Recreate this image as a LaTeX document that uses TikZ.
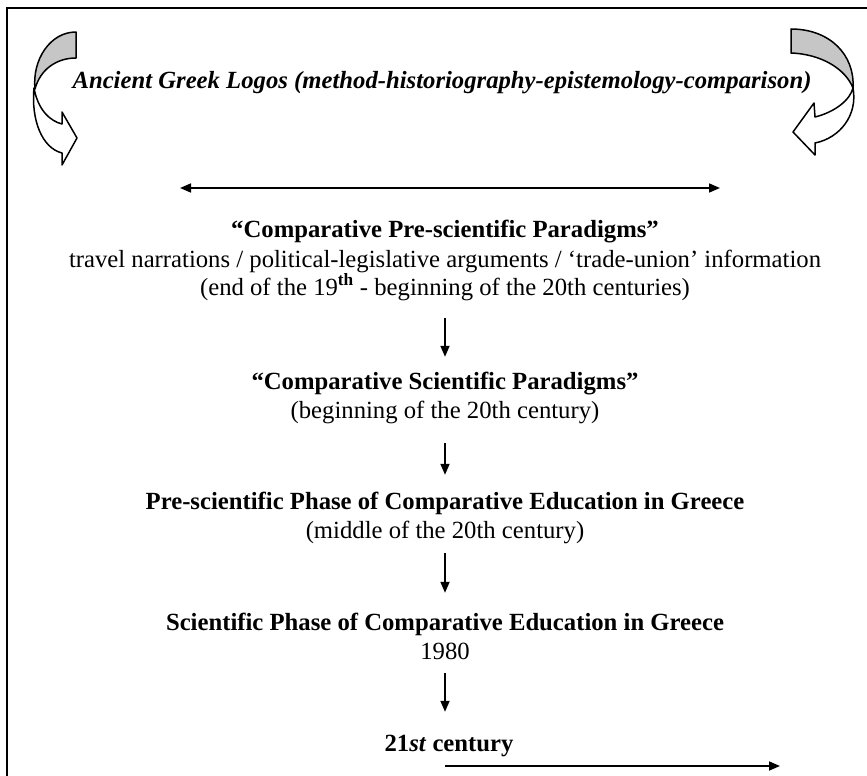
\documentclass[tikz,border=0pt]{standalone}
\usepackage{fontspec}
\setmainfont{Liberation Serif}
\usetikzlibrary{arrows.meta}
\begin{document}
\begin{tikzpicture}[x=1pt,y=-1pt,
  txt/.style={inner sep=0pt, text height=17pt, text depth=5pt, font=\fontsize{24.7}{29}\selectfont},
  btxt/.style={inner sep=0pt, text height=17pt, text depth=5pt, font=\fontsize{24.7}{29}\selectfont\bfseries},
  ttxt/.style={inner sep=0pt, font=\fontsize{24.7}{29}\selectfont\bfseries\itshape},
  conn/.style={line width=1.7pt, -{Triangle[length=11pt,width=9pt]}},
  dconn/.style={line width=1.7pt, {Triangle[length=11pt,width=9pt]}-{Triangle[length=11pt,width=9pt]}},
  frameline/.style={line width=2pt},
  curl/.style={line width=1.5pt, line join=round}]
\useasboundingbox (0,0) rectangle (867,776);
% frame
\draw[frameline] (7,776) -- (7,8) -- (867,8);
% left curved arrow
\draw[curl, fill=gray!45] (76,32) -- (76,58) .. controls (56,58) and (40,70) .. (35,89)
   .. controls (32,60) and (50,32) .. (76,32) -- cycle;
\draw[curl, fill=white] (34,88) .. controls (31,120) and (42,148) .. (62,153) -- (62,165)
   -- (77,138) -- (62,112) -- (62,124) .. controls (50,121) and (38,110) .. (34,88) -- cycle;
% right curved arrow
\draw[curl, fill=gray!45] (791,29) -- (791,53) .. controls (820,54) and (845,68) .. (853,88)
   .. controls (855,55) and (830,29) .. (791,29) -- cycle;
\draw[curl, fill=white] (853,88) .. controls (858,115) and (840,138) .. (815,143) -- (815,155)
   -- (793,132) -- (814,103) -- (815,117) .. controls (835,112) and (850,100) .. (853,88) -- cycle;
% title
\node[ttxt] (title) at (442,83) {Ancient Greek Logos (method-historiography-epistemology-comparison)};
% double arrow
\coordinate (dl) at (180,188);
\coordinate (dr) at (720,188);
\draw[dconn] (dl) -- (dr);
% texts
\node[btxt] (cpp) at (445,231) {“Comparative Pre-scientific Paradigms”};
\node[txt] (trav) at (445,261) {travel narrations / political-legislative arguments / ‘trade-union’ information};
\node[txt] (endl) at (445,289) {(end of the 19\textsuperscript{\textbf{th}} - beginning of the 20th centuries)};
\node[btxt] (csp) at (445,383) {“Comparative Scientific Paradigms”};
\node[txt] (beg) at (445,412) {(beginning of the 20th century)};
\node[btxt] (psp) at (445,503) {Pre-scientific Phase of Comparative Education in Greece};
\node[txt] (mid) at (445,532) {(middle of the 20th century)};
\node[btxt] (sp) at (445,624) {Scientific Phase of Comparative Education in Greece};
\node[txt] (y80) at (445,653) {1980};
\node[btxt] (c21) at (449,745) {21\textit{st} century};
% vertical arrows
\draw[conn, shorten <=18pt, shorten >=15pt] (endl.south) -- (csp.north);
\draw[conn, shorten <=20pt, shorten >=17pt] (beg.south) -- (psp.north);
\draw[conn, shorten <=10pt, shorten >=20pt] (mid.south) -- (sp.north);
\draw[conn, shorten <=9pt, shorten >=22pt] (y80.south) -- (c21.north -| y80.south);
% bottom arrow
\coordinate (hs) at (445,766);
\coordinate (he) at (780,766);
\draw[conn] (hs) -- (he);
\end{tikzpicture}
\end{document}
